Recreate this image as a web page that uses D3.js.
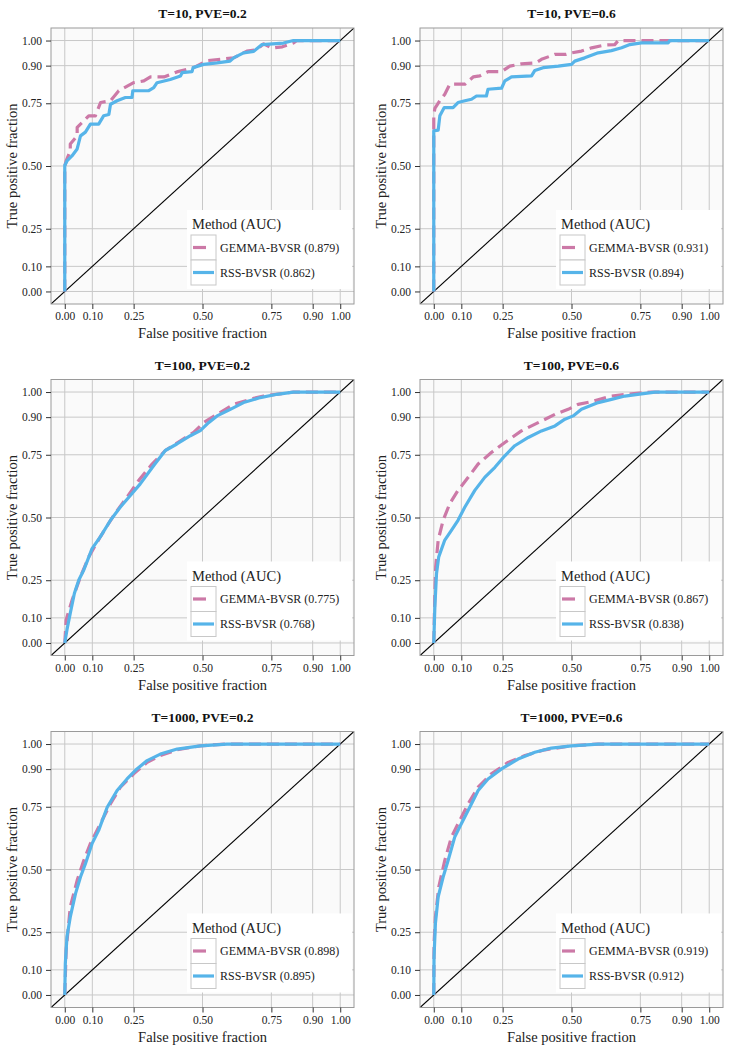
<!DOCTYPE html>
<html>
<head>
<meta charset="utf-8">
<script src="https://cdn.jsdelivr.net/npm/d3@7"></script>
<style>
  html, body { margin: 0; padding: 0; background: #ffffff; }
  svg { display: block; }
  text { font-family: "Liberation Serif", "Times New Roman", serif; }
</style>
</head>
<body>
<svg id="chart" width="730" height="1050"></svg>
<script>
// ---------------- DATA ----------------
const panelTitles = ["T=10, PVE=0.2", "T=10, PVE=0.6", "T=100, PVE=0.2", "T=100, PVE=0.6", "T=1000, PVE=0.2", "T=1000, PVE=0.6"];
const methods = ["GEMMA-BVSR", "RSS-BVSR"];
const aucGemma = ["0.879", "0.931", "0.775", "0.867", "0.898", "0.919"];
const aucRss   = ["0.862", "0.894", "0.768", "0.838", "0.895", "0.912"];
const xTicks = [0, 0.10, 0.25, 0.50, 0.75, 0.90, 1.00];
const yTicks = [0, 0.10, 0.25, 0.50, 0.75, 0.90, 1.00];
const xTitle = "False positive fraction";
const yTitle = "True positive fraction";
const legendTitle = "Method (AUC)";

// ROC curves: [FPR, TPR]
const gemma_T10_P02 = [[0,0],[0,0.50],[0.005,0.52],[0.02,0.56],[0.02,0.588],[0.045,0.62],[0.045,0.654],[0.065,0.675],[0.087,0.70],[0.111,0.70],[0.13,0.753],[0.166,0.76],[0.196,0.80],[0.25,0.832],[0.287,0.839],[0.311,0.855],[0.36,0.855],[0.407,0.875],[0.468,0.892],[0.516,0.92],[0.565,0.925],[0.613,0.931],[0.661,0.958],[0.698,0.964],[0.722,0.987],[0.752,0.97],[0.79,0.975],[0.83,0.99],[0.843,1],[1,1]];
const rss_T10_P02 = [[0,0],[0,0.502],[0.008,0.52],[0.026,0.54],[0.045,0.568],[0.057,0.62],[0.075,0.635],[0.093,0.667],[0.123,0.667],[0.141,0.70],[0.16,0.705],[0.166,0.746],[0.19,0.76],[0.22,0.773],[0.244,0.773],[0.247,0.80],[0.305,0.80],[0.323,0.812],[0.335,0.832],[0.383,0.845],[0.42,0.859],[0.426,0.872],[0.462,0.876],[0.466,0.892],[0.504,0.905],[0.553,0.911],[0.60,0.918],[0.613,0.931],[0.649,0.951],[0.686,0.957],[0.716,0.984],[0.794,0.99],[0.83,1],[1,1]];

const gemma_T10_P06 = [[0,0],[0,0.70],[0.004,0.73],[0.022,0.76],[0.04,0.786],[0.058,0.826],[0.113,0.826],[0.143,0.855],[0.167,0.859],[0.197,0.876],[0.246,0.876],[0.276,0.898],[0.318,0.907],[0.37,0.911],[0.391,0.925],[0.44,0.945],[0.48,0.945],[0.50,0.951],[0.536,0.958],[0.573,0.971],[0.621,0.982],[0.657,0.984],[0.67,1],[1,1]];
const rss_T10_P06 = [[0,0],[0,0.64],[0.016,0.643],[0.022,0.70],[0.038,0.733],[0.07,0.733],[0.088,0.753],[0.113,0.76],[0.137,0.766],[0.155,0.779],[0.191,0.779],[0.197,0.806],[0.246,0.81],[0.258,0.839],[0.282,0.855],[0.355,0.859],[0.367,0.881],[0.397,0.892],[0.452,0.898],[0.50,0.905],[0.512,0.918],[0.548,0.931],[0.597,0.951],[0.645,0.96],[0.682,0.971],[0.712,0.984],[0.754,0.991],[0.851,0.991],[0.857,1],[1,1]];

const gemma_T100_P02 = [[0,0],[0.005,0.092],[0.027,0.172],[0.057,0.264],[0.087,0.343],[0.129,0.423],[0.178,0.509],[0.226,0.581],[0.268,0.647],[0.317,0.713],[0.365,0.767],[0.42,0.806],[0.468,0.839],[0.504,0.878],[0.553,0.911],[0.613,0.951],[0.686,0.975],[0.722,0.984],[0.83,1],[1,1]];
const rss_T100_P02 = [[0,0],[0.008,0.053],[0.02,0.119],[0.035,0.198],[0.051,0.251],[0.069,0.291],[0.083,0.33],[0.099,0.376],[0.129,0.423],[0.166,0.489],[0.202,0.542],[0.238,0.588],[0.274,0.634],[0.323,0.707],[0.365,0.767],[0.407,0.793],[0.456,0.826],[0.492,0.846],[0.522,0.878],[0.553,0.905],[0.601,0.931],[0.649,0.958],[0.71,0.978],[0.77,0.991],[0.83,1],[1,1]];

const gemma_T100_P06 = [[0,0],[0.004,0.198],[0.007,0.304],[0.016,0.41],[0.034,0.489],[0.058,0.555],[0.088,0.608],[0.125,0.66],[0.161,0.713],[0.209,0.759],[0.258,0.799],[0.318,0.845],[0.379,0.878],[0.44,0.911],[0.488,0.931],[0.524,0.951],[0.573,0.962],[0.645,0.984],[0.718,0.993],[0.79,1],[1,1]];
const rss_T100_P06 = [[0,0],[0.004,0.145],[0.01,0.277],[0.018,0.343],[0.04,0.41],[0.064,0.449],[0.088,0.489],[0.113,0.542],[0.149,0.608],[0.185,0.66],[0.222,0.70],[0.258,0.746],[0.294,0.786],[0.343,0.819],[0.391,0.845],[0.44,0.865],[0.476,0.892],[0.506,0.905],[0.536,0.931],[0.597,0.958],[0.645,0.971],[0.694,0.984],[0.754,0.993],[0.803,1],[1,1]];

const gemma_T1000_P02 = [[0,0],[0.005,0.179],[0.02,0.351],[0.045,0.457],[0.069,0.536],[0.093,0.603],[0.129,0.682],[0.166,0.762],[0.202,0.828],[0.25,0.881],[0.299,0.927],[0.347,0.954],[0.408,0.977],[0.492,0.993],[0.589,1],[1,1]];
const rss_T1000_P02 = [[0,0],[0.002,0.126],[0.008,0.232],[0.02,0.311],[0.039,0.404],[0.057,0.47],[0.075,0.523],[0.099,0.603],[0.123,0.656],[0.154,0.748],[0.19,0.815],[0.226,0.861],[0.262,0.901],[0.299,0.934],[0.347,0.96],[0.408,0.98],[0.492,0.993],[0.589,1],[1,1]];

const gemma_T1000_P06 = [[0,0],[0.001,0.205],[0.006,0.311],[0.018,0.43],[0.04,0.536],[0.064,0.629],[0.088,0.682],[0.125,0.762],[0.161,0.828],[0.209,0.881],[0.27,0.927],[0.331,0.954],[0.403,0.977],[0.50,0.993],[0.597,1],[1,1]];
const rss_T1000_P06 = [[0,0],[0.001,0.152],[0.006,0.285],[0.016,0.391],[0.034,0.47],[0.052,0.536],[0.076,0.629],[0.10,0.682],[0.137,0.762],[0.161,0.815],[0.197,0.861],[0.246,0.901],[0.306,0.94],[0.367,0.967],[0.427,0.984],[0.50,0.993],[0.597,1],[1,1]];

const gemmaCurves = [gemma_T10_P02, gemma_T10_P06, gemma_T100_P02, gemma_T100_P06, gemma_T1000_P02, gemma_T1000_P06];
const rssCurves   = [rss_T10_P02, rss_T10_P06, rss_T100_P02, rss_T100_P06, rss_T1000_P02, rss_T1000_P06];

// ---------------- LAYOUT / STYLE ----------------
const colors = { gemma: "#CC79A7", rss: "#56B4E9" };
const cols = [{ left: 51, right: 354 }, { left: 420, right: 723 }];
const rows = [{ top: 28, bottom: 304 }, { top: 379.5, bottom: 655.5 }, { top: 731.5, bottom: 1007.5 }];
const svg = d3.select("#chart");
const fmt = d3.format(".2f");

panelTitles.forEach((title, i) => {
  const c = cols[i % 2], r = rows[Math.floor(i / 2)];
  const x = d3.scaleLinear().domain([-0.05, 1.05]).range([c.left, c.right]);
  const y = d3.scaleLinear().domain([-0.05, 1.05]).range([r.bottom, r.top]);
  const g = svg.append("g");
  const clipId = "clip" + i;
  g.append("clipPath").attr("id", clipId).append("rect")
    .attr("x", c.left).attr("y", r.top).attr("width", c.right - c.left).attr("height", r.bottom - r.top);

  // panel background
  g.append("rect").attr("x", c.left).attr("y", r.top)
    .attr("width", c.right - c.left).attr("height", r.bottom - r.top)
    .attr("fill", "#fafafa");

  // grid
  g.append("g").selectAll("line").data(xTicks).join("line")
    .attr("x1", d => x(d)).attr("x2", d => x(d)).attr("y1", r.top).attr("y2", r.bottom)
    .attr("stroke", "#c8c8c8").attr("stroke-width", 1);
  g.append("g").selectAll("line").data(yTicks).join("line")
    .attr("y1", d => y(d)).attr("y2", d => y(d)).attr("x1", c.left).attr("x2", c.right)
    .attr("stroke", "#c8c8c8").attr("stroke-width", 1);

  const plot = g.append("g").attr("clip-path", `url(#${clipId})`);
  // diagonal reference
  plot.append("line")
    .attr("x1", x(-0.05)).attr("y1", y(-0.05)).attr("x2", x(1.05)).attr("y2", y(1.05))
    .attr("stroke", "#000").attr("stroke-width", 1.1);

  const line = d3.line().x(d => x(d[0])).y(d => y(d[1]));
  plot.append("path").datum(gemmaCurves[i]).attr("d", line)
    .attr("fill", "none").attr("stroke", colors.gemma).attr("stroke-width", 3.2)
    .attr("stroke-dasharray", "12,6").attr("stroke-linejoin", "round");
  plot.append("path").datum(rssCurves[i]).attr("d", line)
    .attr("fill", "none").attr("stroke", colors.rss).attr("stroke-width", 3.2)
    .attr("stroke-linejoin", "round");

  // legend
  const lg = g.append("g");
  lg.append("rect").attr("x", c.left + 136).attr("y", r.top + 182)
    .attr("width", c.right - c.left - 138).attr("height", 79).attr("fill", "#ffffff");
  lg.append("text").attr("x", c.left + 141).attr("y", r.top + 201)
    .attr("font-size", 14.5).attr("fill", "#222").text(legendTitle);
  const keys = [
    { name: methods[0], auc: aucGemma[i], color: colors.gemma, dash: "13,12" },
    { name: methods[1], auc: aucRss[i], color: colors.rss, dash: null }
  ];
  keys.forEach((k, j) => {
    const ky = r.top + 207 + j * 25;
    lg.append("rect").attr("x", c.left + 140).attr("y", ky).attr("width", 25).attr("height", 25)
      .attr("fill", "#fff").attr("stroke", "#c8c8c8").attr("stroke-width", 1);
    lg.append("line").attr("x1", c.left + 142).attr("x2", c.left + 163)
      .attr("y1", ky + 12.5).attr("y2", ky + 12.5)
      .attr("stroke", k.color).attr("stroke-width", 3.2)
      .attr("stroke-dasharray", k.dash);
    lg.append("text").attr("x", c.left + 169).attr("y", ky + 12.5).attr("dy", "0.35em")
      .attr("font-size", 12).attr("fill", "#222").text(`${k.name} (${k.auc})`);
  });

  // panel border
  g.append("rect").attr("x", c.left).attr("y", r.top)
    .attr("width", c.right - c.left).attr("height", r.bottom - r.top)
    .attr("fill", "none").attr("stroke", "#9a9a9a").attr("stroke-width", 1);

  // axes
  const xAxis = g.append("g").attr("transform", `translate(0,${r.bottom})`)
    .call(d3.axisBottom(x).tickValues(xTicks).tickFormat(fmt).tickSize(5).tickPadding(3));
  const yAxis = g.append("g").attr("transform", `translate(${c.left},0)`)
    .call(d3.axisLeft(y).tickValues(yTicks).tickFormat(fmt).tickSize(5).tickPadding(4));
  [xAxis, yAxis].forEach(a => {
    a.select(".domain").remove();
    a.selectAll(".tick line").attr("stroke", "#333");
    a.selectAll(".tick text").attr("font-size", 11.5).attr("fill", "#222")
      .style("font-family", '"Liberation Serif", "Times New Roman", serif');
  });

  // titles
  const cx = (c.left + c.right) / 2;
  g.append("text").attr("x", cx).attr("y", r.top - 10).attr("text-anchor", "middle")
    .attr("font-size", 13.5).attr("font-weight", "bold").attr("fill", "#111").text(title);
  g.append("text").attr("x", cx).attr("y", r.bottom + 34).attr("text-anchor", "middle")
    .attr("font-size", 14.5).attr("fill", "#222").text(xTitle);
  g.append("text").attr("transform", `translate(${c.left - 34},${(r.top + r.bottom) / 2}) rotate(-90)`)
    .attr("text-anchor", "middle").attr("font-size", 14.5).attr("fill", "#222").text(yTitle);
});
</script>
</body>
</html>
